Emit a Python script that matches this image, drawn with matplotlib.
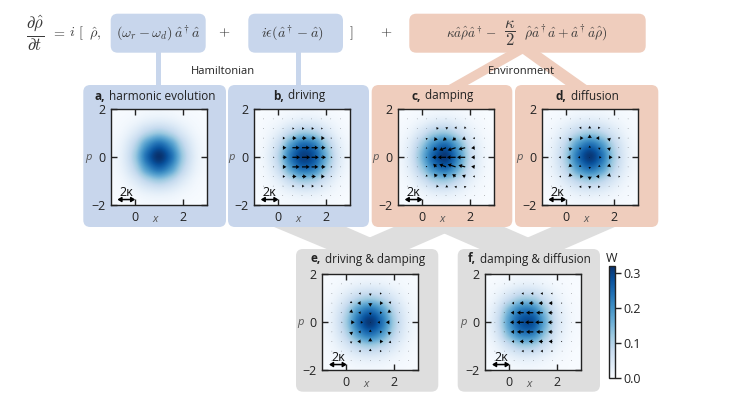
import numpy as np
import matplotlib
matplotlib.use('Agg')
import matplotlib.pyplot as plt
from matplotlib.patches import FancyBboxPatch, Polygon

# Wigner function, top half of grid: p = 2, 1.5, 1, .5, 0 and x = -1 ... 3 in steps of .5
W_A = [[.000, .001, .002, .005, .006, .005, .002, .001, .000],
       [.001, .004, .012, .026, .033, .026, .012, .004, .001],
       [.002, .012, .043, .091, .117, .091, .043, .012, .002],
       [.005, .026, .091, .193, .248, .193, .091, .026, .005],
       [.006, .033, .117, .248, .318, .248, .117, .033, .006]]
W_B = [[.000, .001, .002, .004, .006, .006, .003, .001, .000],
       [.001, .003, .009, .022, .033, .031, .017, .006, .001],
       [.001, .008, .032, .080, .118, .107, .058, .018, .004],
       [.003, .016, .070, .175, .245, .225, .125, .040, .008],
       [.004, .022, .092, .225, .300, .275, .160, .052, .010]]
W_C = [[.000, .001, .003, .006, .007, .005, .002, .001, .000],
       [.001, .005, .016, .032, .036, .024, .010, .003, .000],
       [.003, .018, .058, .108, .120, .080, .032, .008, .001],
       [.006, .038, .118, .210, .245, .165, .068, .017, .003],
       [.008, .048, .150, .265, .310, .210, .085, .021, .004]]
W_D = [[.001, .002, .004, .007, .008, .007, .004, .002, .001],
       [.002, .006, .016, .030, .036, .030, .016, .006, .002],
       [.004, .016, .048, .092, .115, .092, .048, .016, .004],
       [.007, .030, .092, .188, .240, .188, .092, .030, .007],
       [.008, .036, .115, .240, .310, .240, .115, .036, .008]]
W_F = [[.000, .001, .004, .007, .007, .005, .002, .001, .000],
       [.002, .007, .020, .034, .034, .020, .008, .002, .000],
       [.004, .024, .070, .112, .110, .065, .024, .005, .001],
       [.010, .052, .150, .225, .222, .130, .048, .011, .002],
       [.013, .066, .185, .275, .280, .165, .060, .014, .002]]

# flow arrows, top half of grid: p = 1.6 ... 0 and x = -.6 ... 2.6 in steps of .4
U_B = [[0, 0, .01, .02, .02, .02, .01, 0, 0],
       [0, .01, .03, .08, .10, .10, .07, .02, 0],
       [0, .02, .10, .17, .19, .18, .15, .05, .01],
       [.01, .04, .15, .30, .32, .28, .18, .06, .01],
       [.01, .05, .17, .32, .34, .30, .20, .07, .01]]
U_C = [[0, 0, 0, .01, .01, .01, 0, 0, 0],
       [0, 0, .01, .10, .09, .03, -.02, -.01, 0],
       [0, 0, -.02, -.10, -.13, -.14, -.13, -.08, -.01],
       [0, -.01, -.04, -.13, -.28, -.33, -.28, -.15, -.03],
       [0, -.01, -.05, -.18, -.34, -.36, -.34, -.15, -.05]]
V_C = [[0, 0, 0, 0, .01, .01, .01, 0, 0],
       [0, 0, 0, .02, .05, .09, .09, .01, 0],
       [0, 0, -.08, -.12, -.11, -.10, -.06, -.01, 0],
       [0, 0, -.04, -.13, -.11, -.11, -.07, -.02, 0],
       [0, 0, 0, 0, 0, 0, 0, 0, 0]]
U_D = [[0, 0, 0, 0, 0, 0, 0, 0, 0],
       [0, -.01, -.02, .05, 0, -.05, .02, .01, 0],
       [-.01, -.07, -.03, .14, 0, -.14, .03, .07, .01],
       [-.01, -.03, -.03, 0, 0, 0, .03, .03, .01],
       [-.02, -.09, -.15, -.09, 0, .09, .15, .09, .02]]
V_D = [[0, 0, .01, .01, .02, .01, .01, 0, 0],
       [0, .01, .02, .08, .11, .08, .02, .01, 0],
       [0, .01, -.14, 0, .15, 0, -.14, .01, 0],
       [0, 0, -.14, -.09, .09, -.09, -.14, 0, 0],
       [0, 0, 0, 0, 0, 0, 0, 0, 0]]
U_E = [[0, 0, 0, 0, 0, 0, 0, 0, 0],
       [0, 0, -.01, -.08, 0, .08, .01, 0, 0],
       [0, -.01, 0, -.14, 0, .14, .07, .01, 0],
       [0, -.03, .02, -.10, 0, .10, -.02, .03, 0],
       [.01, .04, .15, .10, .02, -.10, -.15, -.06, -.01]]
V_E = [[0, 0, 0, 0, 0, 0, 0, 0, 0],
       [0, 0, 0, 0, -.10, 0, 0, 0, 0],
       [0, 0, .09, 0, -.15, 0, .07, 0, 0],
       [0, .01, .14, 0, -.10, 0, .14, .01, 0],
       [0, 0, 0, 0, 0, 0, 0, 0, 0]]
U_F = [[0, 0, -.01, -.01, -.01, -.01, -.01, 0, 0],
       [0, -.02, -.02, -.09, -.10, -.10, -.07, -.01, 0],
       [0, -.03, -.10, -.17, -.19, -.18, -.16, -.05, 0],
       [-.01, -.03, -.14, -.28, -.30, -.28, -.18, -.05, -.01],
       [-.01, -.04, -.17, -.30, -.34, -.32, -.19, -.05, -.01]]
V_ZERO = [[0] * 9] * 5

X_ARROWS = [-.6, -.2, .2, .6, 1.0, 1.4, 1.8, 2.2, 2.6]
P_ARROWS = [1.6, 1.2, .8, .4, 0, -.4, -.8, -1.2, -1.6]
CBAR_TICKS = [0.0, 0.1, 0.2, 0.3]

BLUE = '#c8d6ec'
PEACH = '#efcdbd'
GREY = '#dedede'
EQ_COLOR = '#3a3a3a'
W, H = 747, 399

plt.rcParams['font.family'] = ['Open Sans', 'DejaVu Sans']
plt.rcParams['mathtext.fontset'] = 'cm'


def mirror(rows, sign=1):
    rows = np.array(rows, dtype=float)
    return np.vstack([rows, sign * rows[-2::-1]])


def px_axes(x0, y0, x1, y1):
    return fig.add_axes([x0 / W, 1 - y1 / H, (x1 - x0) / W, (y1 - y0) / H])


def box(x0, y0, x1, y1, color):
    bg.add_patch(FancyBboxPatch((x0, y0), x1 - x0, y1 - y0, boxstyle='round,pad=0,rounding_size=7',
                                fc=color, ec='none', zorder=2))


def band(points, color):
    bg.add_patch(Polygon(points, closed=True, fc=color, ec='none', zorder=1))


def title(cx, y, bold, rest):
    r = fig.canvas.get_renderer()
    a = bg.text(0, y, bold, fontsize=8.5, fontweight='bold', va='center', color='#222222', zorder=3)
    b = bg.text(0, y, ' ' + rest, fontsize=8.5, va='center', color='#222222', zorder=3)
    wa = a.get_window_extent(r).width
    wb = b.get_window_extent(r).width
    a.set_x(cx - (wa + wb) / 2)
    b.set_x(cx - (wa + wb) / 2 + wa + 1)


def panel(x0, y0, wigner, u=None, v=None):
    ax = px_axes(x0, y0, x0 + 96, y0 + 96)
    im = ax.imshow(mirror(wigner), cmap='Blues', vmin=0, vmax=.32, interpolation='catrom',
                   extent=[-1.25, 3.25, -2.25, 2.25], aspect='auto')
    ax.set_xlim(-1, 3)
    ax.set_ylim(-2, 2)
    if u is not None:
        ax.quiver(X_ARROWS, P_ARROWS, mirror(u), mirror(v, -1), angles='xy', scale_units='xy', scale=1,
                  pivot='tail', units='dots', width=1.2, headwidth=3.6, headlength=3, headaxislength=2.7,
                  minlength=.5, color='k', zorder=3)
    ax.set_xticks([0, 2])
    ax.set_yticks([-2, 0, 2])
    ax.tick_params(direction='in', top=True, right=True, length=4, width=1, labelsize=9,
                   pad=4, colors='#222222')
    for s in ax.spines.values():
        s.set_linewidth(1)
        s.set_color('#222222')
    ax.text(.458, -.15, 'x', transform=ax.transAxes, fontsize=8, style='italic', color='#555555',
            ha='center', va='center')
    ax.text(-.233, .5, 'p', transform=ax.transAxes, fontsize=8, style='italic', color='#555555',
            ha='center', va='center')
    ax.annotate('', xy=(0.02, -1.76), xytext=(-.72, -1.76),
                arrowprops=dict(arrowstyle='<|-|>,head_width=.14,head_length=.22', lw=1.1, color='k',
                                shrinkA=0, shrinkB=0))
    ax.text(-.35, -1.46, '2κ', fontsize=9, ha='center', va='center', color='#111111')
    return im


fig = plt.figure(figsize=(W / 100, H / 100), dpi=100)
bg = fig.add_axes([0, 0, 1, 1])
bg.set_xlim(0, W)
bg.set_ylim(H, 0)
bg.axis('off')

# connectors
band([(155.7, 50), (161, 50), (161, 87), (155.7, 87)], BLUE)
band([(295.7, 50), (301, 50), (301, 87), (295.7, 87)], BLUE)
band([(507, 52), (526, 52), (466, 86), (447, 86)], PEACH)
band([(520, 52), (540, 52), (588, 86), (567, 86)], PEACH)
band([(271.7, 226), (344, 226), (399, 250), (329, 250)], GREY)
band([(396, 226), (462, 226), (407, 250), (340.7, 250)], GREY)
band([(427, 226), (502, 226), (557, 250), (482, 250)], GREY)
band([(554, 226), (617, 226), (562, 250), (499, 250)], GREY)

# boxes
box(110.7, 13.7, 205.7, 52.7, BLUE)
box(248.3, 13.7, 343, 52.7, BLUE)
box(409.3, 13.7, 645.7, 52.7, PEACH)
box(83.3, 85, 226, 227, BLUE)
box(228, 85, 369, 227, BLUE)
box(371.7, 85, 512.3, 227, PEACH)
box(515, 85, 658.3, 227, PEACH)
box(296, 249, 438.3, 391.7, GREY)
box(457.7, 249, 600, 391.7, GREY)

# equation
eq = dict(fontsize=10.2, color=EQ_COLOR, ha='center', va='center', zorder=3)
frac = dict(eq, fontsize=12)
bg.text(35, 33, r'$\dfrac{\partial\hat{\rho}}{\partial t}$', **frac)
bg.text(58, 33, r'$=$', **eq)
bg.text(72, 33, r'$i$', **eq)
bg.text(81, 33, r'$[$', **eq)
bg.text(95, 34, r'$\hat{\rho},$', **eq)
bg.text(158.3, 33, r'$(\omega_r-\omega_d)\,\hat{a}^\dagger\hat{a}$', **eq)
bg.text(224, 33, r'$+$', **eq)
bg.text(293, 33, r'$i\epsilon(\hat{a}^\dagger-\hat{a})$', **eq)
bg.text(350.7, 33, r'$]$', **eq)
bg.text(386, 33, r'$+$', **eq)
bg.text(472, 33, r'$\kappa\hat{a}\hat{\rho}\hat{a}^\dagger-$', **dict(eq, fontsize=9.5))
bg.text(510, 33, r'$\dfrac{\kappa}{2}$', **frac)
bg.text(566, 33, r'$\hat{\rho}\hat{a}^\dagger\hat{a}+\hat{a}^\dagger\hat{a}\hat{\rho})$', **dict(eq, fontsize=9.8))
bg.text(223.3, 71.7, 'Hamiltonian', fontsize=8, ha='center', va='center', color='#222222', zorder=3)
bg.text(521.7, 71.7, 'Environment', fontsize=8, ha='center', va='center', color='#222222', zorder=3)

# titles
title(154.6, 96, 'a,', 'harmonic evolution')
title(298.5, 96, 'b,', 'driving')
title(442, 96, 'c,', 'damping')
title(586.6, 96, 'd,', 'diffusion')
title(367, 259, 'e,', 'driving & damping')
title(529, 259, 'f,', 'damping & diffusion')

# panels
im = panel(110.7, 109.3, W_A)
panel(254, 109.3, W_B, U_B, V_ZERO)
panel(398, 109.3, W_C, U_C, V_C)
panel(541.7, 109.3, W_D, U_D, V_D)
panel(322.3, 274.3, W_D, U_E, V_E)
panel(485.3, 274.3, W_F, U_F, V_ZERO)

# colour bar
cax = px_axes(608.7, 265.7, 615, 377.7)
cb = fig.colorbar(im, cax=cax, ticks=CBAR_TICKS)
cb.ax.tick_params(length=4, width=1, labelsize=9, pad=2, colors='#222222')
cb.outline.set_linewidth(1)
cb.outline.set_edgecolor('#222222')
bg.text(612, 258, 'W', fontsize=9, ha='center', va='center', color='#222222')

fig.savefig('out.png', dpi=100)
